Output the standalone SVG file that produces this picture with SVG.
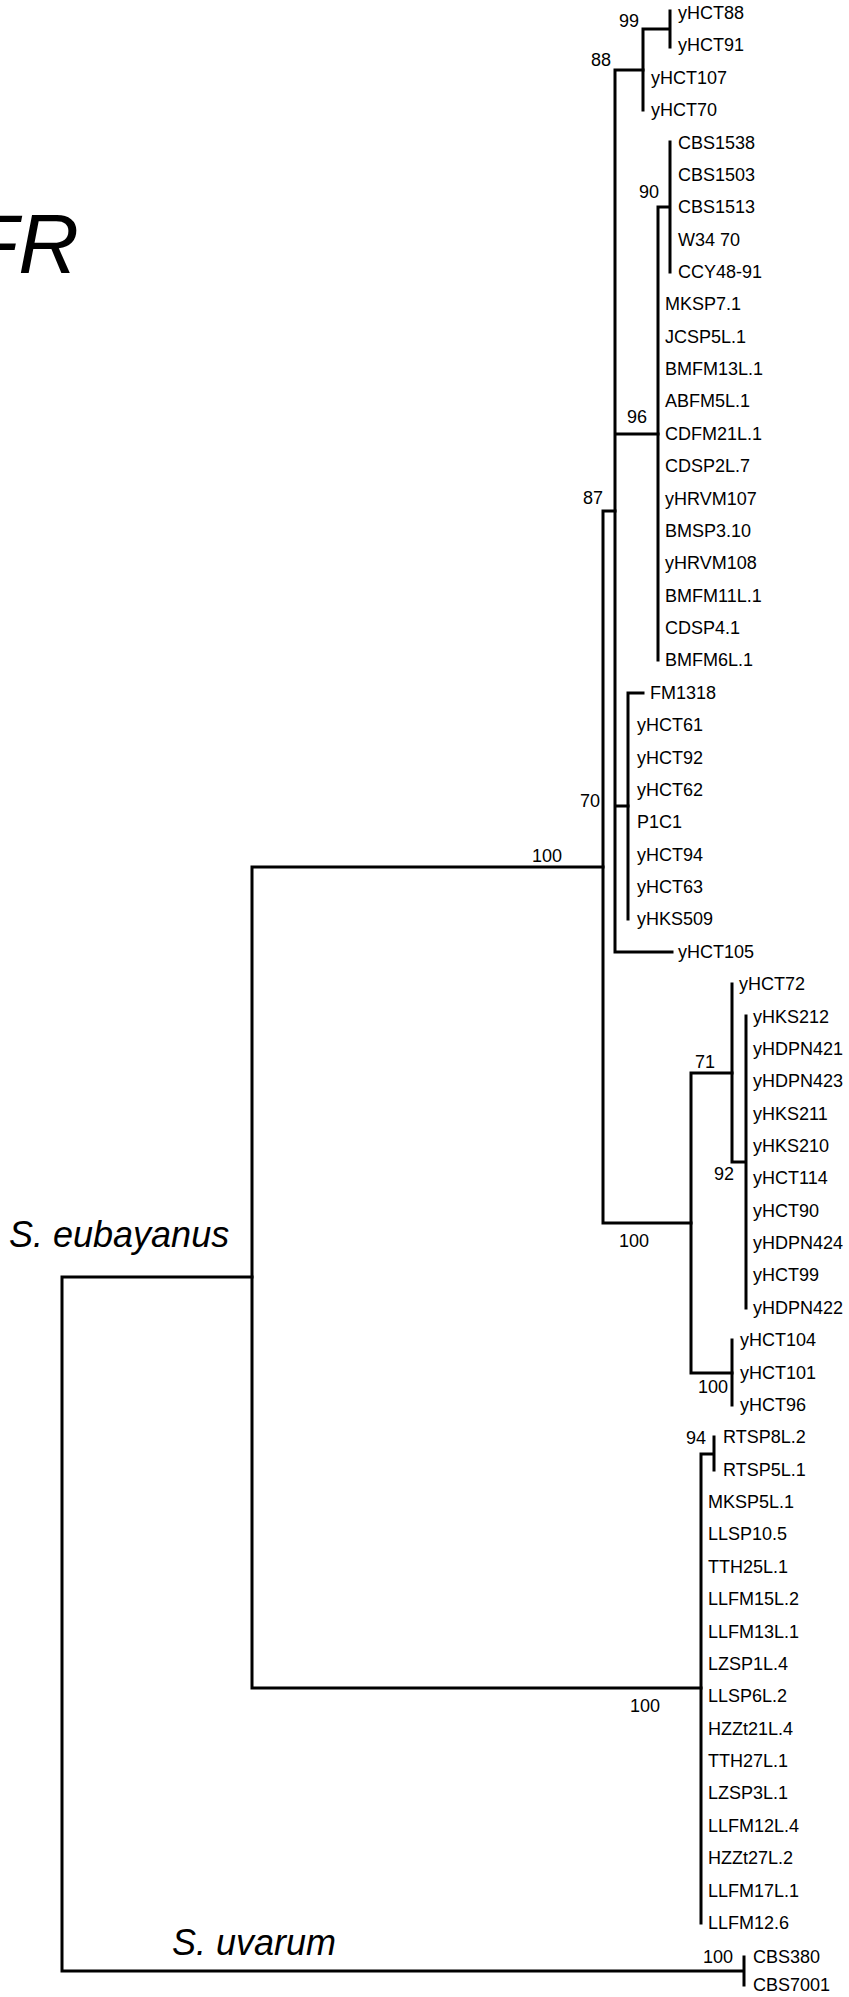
<svg xmlns="http://www.w3.org/2000/svg" width="849" height="1997" viewBox="0 0 849 1997">
<style>
text{font-family:"Liberation Sans",Arial,sans-serif;fill:#000}
.lb{font-size:18px}
.bs{font-size:18px}
.sp{font-size:36px;font-style:italic}
.ti{font-size:84px;font-style:italic}
.br{fill:none;stroke:#000;stroke-width:3;stroke-linecap:square;stroke-linejoin:miter}
</style>
<rect width="849" height="1997" fill="#fff"/>
<g id="title"><text class="ti" x="-33" y="273">FR</text></g>
<g id="clade-labels">
<text class="sp" x="9" y="1247">S. eubayanus</text>
<text class="sp" x="172" y="1955">S. uvarum</text>
</g>
<g id="connectors">
<path class="br" d="M62,1277V1971M62,1277H252M62,1971H744M744,1957V1985"/>
<path class="br" d="M252,867V1688M252,867H603M252,1688H701"/>
<path class="br" d="M603,511V1223M603,511H615M603,1223H691"/>
<path class="br" d="M615,70V952M615,70H643M615,434H658M615,806H628M615,952H672"/>
<path class="br" d="M643,29V110M643,29H670M670,11V47"/>
<path class="br" d="M658,207V660M658,207H670M670,142V272"/>
<path class="br" d="M628,693V919M628,693H643"/>
<path class="br" d="M691,1073V1373M691,1073H732M691,1373H732"/>
<path class="br" d="M732,984V1162M732,1162H746M746,1016V1308"/>
<path class="br" d="M732,1340V1405"/>
<path class="br" d="M701,1454V1923M701,1454H714M714,1437V1470"/>
</g>
<g id="support">
<text class="bs" x="619" y="27">99</text>
<text class="bs" x="591" y="66">88</text>
<text class="bs" x="639" y="198">90</text>
<text class="bs" x="627" y="423">96</text>
<text class="bs" x="583" y="504">87</text>
<text class="bs" x="580" y="807">70</text>
<text class="bs" x="532" y="862">100</text>
<text class="bs" x="695" y="1068">71</text>
<text class="bs" x="714" y="1180">92</text>
<text class="bs" x="619" y="1247">100</text>
<text class="bs" x="698" y="1393">100</text>
<text class="bs" x="686" y="1444">94</text>
<text class="bs" x="630" y="1712">100</text>
<text class="bs" x="703" y="1963">100</text>
</g>
<g id="tips">
<g id="t1"><text class="lb" x="678" y="19">yHCT88</text></g>
<g id="t2"><text class="lb" x="678" y="51.4">yHCT91</text></g>
<g id="t3"><text class="lb" x="651" y="83.7">yHCT107</text></g>
<g id="t4"><text class="lb" x="651" y="116.1">yHCT70</text></g>
<g id="t5"><text class="lb" x="678" y="148.5">CBS1538</text></g>
<g id="t6"><text class="lb" x="678" y="180.9">CBS1503</text></g>
<g id="t7"><text class="lb" x="678" y="213.2">CBS1513</text></g>
<g id="t8"><text class="lb" x="678" y="245.6">W34 70</text></g>
<g id="t9"><text class="lb" x="678" y="278">CCY48-91</text></g>
<g id="t10"><text class="lb" x="665" y="310.3">MKSP7.1</text></g>
<g id="t11"><text class="lb" x="665" y="342.7">JCSP5L.1</text></g>
<g id="t12"><text class="lb" x="665" y="375.1">BMFM13L.1</text></g>
<g id="t13"><text class="lb" x="665" y="407.4">ABFM5L.1</text></g>
<g id="t14"><text class="lb" x="665" y="439.8">CDFM21L.1</text></g>
<g id="t15"><text class="lb" x="665" y="472.2">CDSP2L.7</text></g>
<g id="t16"><text class="lb" x="665" y="504.5">yHRVM107</text></g>
<g id="t17"><text class="lb" x="665" y="536.9">BMSP3.10</text></g>
<g id="t18"><text class="lb" x="665" y="569.3">yHRVM108</text></g>
<g id="t19"><text class="lb" x="665" y="601.7">BMFM11L.1</text></g>
<g id="t20"><text class="lb" x="665" y="634">CDSP4.1</text></g>
<g id="t21"><text class="lb" x="665" y="666.4">BMFM6L.1</text></g>
<g id="t22"><text class="lb" x="650" y="698.8">FM1318</text></g>
<g id="t23"><text class="lb" x="637" y="731.1">yHCT61</text></g>
<g id="t24"><text class="lb" x="637" y="763.5">yHCT92</text></g>
<g id="t25"><text class="lb" x="637" y="795.9">yHCT62</text></g>
<g id="t26"><text class="lb" x="637" y="828.3">P1C1</text></g>
<g id="t27"><text class="lb" x="637" y="860.6">yHCT94</text></g>
<g id="t28"><text class="lb" x="637" y="893">yHCT63</text></g>
<g id="t29"><text class="lb" x="637" y="925.4">yHKS509</text></g>
<g id="t30"><text class="lb" x="678" y="957.7">yHCT105</text></g>
<g id="t31"><text class="lb" x="739" y="990.1">yHCT72</text></g>
<g id="t32"><text class="lb" x="753" y="1022.5">yHKS212</text></g>
<g id="t33"><text class="lb" x="753" y="1054.8">yHDPN421</text></g>
<g id="t34"><text class="lb" x="753" y="1087.2">yHDPN423</text></g>
<g id="t35"><text class="lb" x="753" y="1119.6">yHKS211</text></g>
<g id="t36"><text class="lb" x="753" y="1152">yHKS210</text></g>
<g id="t37"><text class="lb" x="753" y="1184.3">yHCT114</text></g>
<g id="t38"><text class="lb" x="753" y="1216.7">yHCT90</text></g>
<g id="t39"><text class="lb" x="753" y="1249.1">yHDPN424</text></g>
<g id="t40"><text class="lb" x="753" y="1281.4">yHCT99</text></g>
<g id="t41"><text class="lb" x="753" y="1313.8">yHDPN422</text></g>
<g id="t42"><text class="lb" x="740" y="1346.2">yHCT104</text></g>
<g id="t43"><text class="lb" x="740" y="1378.5">yHCT101</text></g>
<g id="t44"><text class="lb" x="740" y="1410.9">yHCT96</text></g>
<g id="t45"><text class="lb" x="723" y="1443.3">RTSP8L.2</text></g>
<g id="t46"><text class="lb" x="723" y="1475.7">RTSP5L.1</text></g>
<g id="t47"><text class="lb" x="708" y="1508">MKSP5L.1</text></g>
<g id="t48"><text class="lb" x="708" y="1540.4">LLSP10.5</text></g>
<g id="t49"><text class="lb" x="708" y="1572.8">TTH25L.1</text></g>
<g id="t50"><text class="lb" x="708" y="1605.1">LLFM15L.2</text></g>
<g id="t51"><text class="lb" x="708" y="1637.5">LLFM13L.1</text></g>
<g id="t52"><text class="lb" x="708" y="1669.9">LZSP1L.4</text></g>
<g id="t53"><text class="lb" x="708" y="1702.2">LLSP6L.2</text></g>
<g id="t54"><text class="lb" x="708" y="1734.6">HZZt21L.4</text></g>
<g id="t55"><text class="lb" x="708" y="1767">TTH27L.1</text></g>
<g id="t56"><text class="lb" x="708" y="1799.4">LZSP3L.1</text></g>
<g id="t57"><text class="lb" x="708" y="1831.7">LLFM12L.4</text></g>
<g id="t58"><text class="lb" x="708" y="1864.1">HZZt27L.2</text></g>
<g id="t59"><text class="lb" x="708" y="1896.5">LLFM17L.1</text></g>
<g id="t60"><text class="lb" x="708" y="1928.8">LLFM12.6</text></g>
<g id="t61"><text class="lb" x="753" y="1963">CBS380</text></g>
<g id="t62"><text class="lb" x="753" y="1991">CBS7001</text></g>
</g>
</svg>
